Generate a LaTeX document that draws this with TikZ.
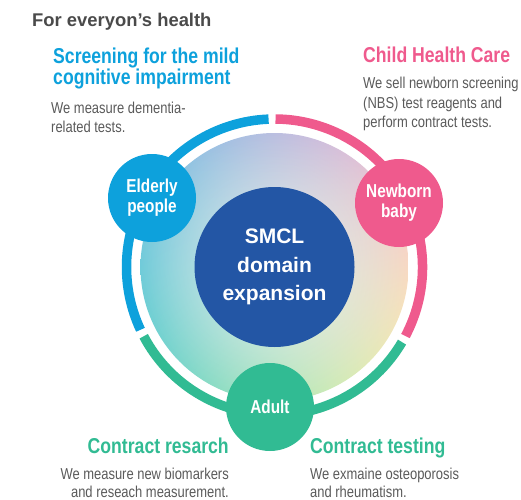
\documentclass[tikz,border=0pt]{standalone}
\usepackage{fontspec}
\setmainfont{Liberation Sans}
\newfontfamily\condfont{Liberation Sans}[FakeStretch=0.82]
\usepackage{tikz}
\usetikzlibrary{
  positioning,
  shadings,
  fadings
}
\definecolor{blueFill}{HTML}{0DA1DC}
\definecolor{pinkFill}{HTML}{EF5A8D}
\definecolor{greenFill}{HTML}{31BB93}
\definecolor{navyFill}{HTML}{2356A5}
\definecolor{titleTxt}{HTML}{4A4A4A}
\definecolor{bodyTxt}{HTML}{5A5A5A}
\definecolor{glowBlue}{HTML}{80C2E8}
\definecolor{glowPink}{HTML}{F6BCD8}
\definecolor{glowTeal}{HTML}{62D5CB}
\definecolor{glowYellow}{HTML}{F9F6AE}
\tikzfading[name=glow fade, inner color=transparent!35, outer color=transparent!100]
\tikzset{
  group node/.style={
    circle, minimum size=88pt, inner sep=0pt,
    align=center, text=white,
    font=\condfont\bfseries\fontsize{18.7}{20}\selectfont
  },
  blue node/.style={group node, fill=blueFill},
  pink node/.style={group node, fill=pinkFill},
  green node/.style={group node, fill=greenFill},
  core node/.style={
    circle, minimum size=160pt, inner sep=0pt,
    fill=navyFill, text=white, align=center,
    font=\bfseries\fontsize{21}{28.7}\selectfont
  },
  ring/.style={line width=9.5pt},
  title text/.style={inner sep=0pt, text=titleTxt,
    font=\bfseries\fontsize{18.4}{20}\selectfont},
  head text/.style={inner sep=0pt,
    font=\condfont\bfseries\fontsize{21.5}{21}\selectfont},
  body text/.style={inner sep=0pt, text=bodyTxt,
    font=\condfont\fontsize{15.8}{18}\selectfont},
}

\begin{document}
\begin{tikzpicture}[x=1pt, y=1pt]
    \useasboundingbox (0,0) rectangle (521,499);
    \coordinate (C) at (274.5,232);

    % Background disk
    \shade[upper left=glowBlue, upper right=glowPink,
      lower left=glowTeal, lower right=glowYellow] (C) circle (134);
    \fill[white, path fading=glow fade] (C) circle (134);

    % Ring
    \draw[ring, blueFill] (C) ++(92.3:148) arc[start angle=92.3, end angle=205.1, radius=148];
    \draw[ring, greenFill] (C) ++(207.9:148) arc[start angle=207.9, end angle=329.5, radius=148];
    \draw[ring, pinkFill] (C) ++(-27.8:148) arc[start angle=-27.8, end angle=89.6, radius=148];

    % Nodes
    \node[core node] (core) at (C) {SMCL\\domain\\expansion};
    \node[blue node] (elderly) at (152,301) {Elderly\\people};
    \node[pink node] (newborn) at (399,296) {Newborn\\baby};
    \node[green node] (adult) at (270,92) {Adult};

    % Texts (base = last line)
    \node[title text, anchor=base west] (title) at (32,472) {For everyon’s health};
    \node[head text, text=blueFill, anchor=base west, align=left] (mciHead) at (53,414)
      {Screening for the mild\\cognitive impairment};
    \node[body text, anchor=base west, align=left] (mciBody) at (51,367)
      {We measure dementia-\\related tests.};
    \node[head text, text=pinkFill, anchor=base west] (childHead) at (363,436) {Child Health Care};
    \node[body text, anchor=base west, align=left,
      font=\condfont\fontsize{15.8}{19.5}\selectfont] (childBody) at (363,371)
      {We sell newborn screening\\(NBS) test reagents and\\perform contract tests.};
    \node[head text, text=greenFill, anchor=base east] (researchHead) at (229,46) {Contract resarch};
    \node[body text, anchor=base east, align=right] (researchBody) at (229,2)
      {We measure new biomarkers\\and reseach measurement.};
    \node[head text, text=greenFill, anchor=base west] (testingHead) at (310,46) {Contract testing};
    \node[body text, anchor=base west, align=left] (testingBody) at (310,2)
      {We exmaine osteoporosis\\and rheumatism.};
  \end{tikzpicture}
\end{document}
